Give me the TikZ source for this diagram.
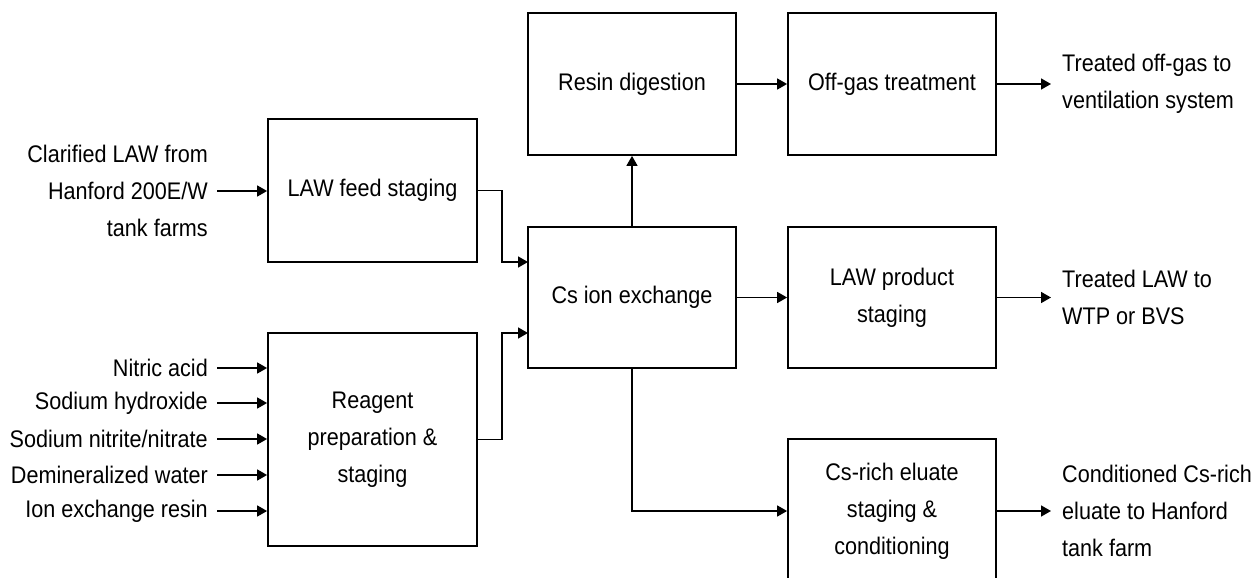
\documentclass[tikz,border=0pt]{standalone}
\usepackage{fontspec}
\setmainfont{Liberation Sans}[FakeStretch=0.9]
\usetikzlibrary{arrows.meta}
\begin{document}
\begin{tikzpicture}[x=1pt,y=-1pt,
  txt/.style={font=\fontsize{24}{37}\selectfont},
  box/.style={draw, line width=1.8pt, txt, align=center, inner sep=0pt},
  arr/.style={line width=1.6pt, -{Triangle[length=10pt,width=11pt]}},
  inlab/.style={txt, align=right, anchor=east, inner xsep=9pt, inner ysep=0pt},
  outlab/.style={txt, align=left, anchor=west, inner xsep=11pt, inner ysep=0pt}]
\useasboundingbox (0,0) rectangle (1251,578);
\clip (0,0) rectangle (1251,578);
% boxes
\node[box, minimum width=209pt, minimum height=143pt] (feed) at (372.5,190.5) {LAW feed staging};
\node[box, minimum width=209pt, minimum height=213pt] (reag) at (372.5,439.5) {Reagent\\preparation \&\\staging};
\node[box, minimum width=208pt, minimum height=141pt] (cs) at (632,297.5) {Cs ion exchange};
\node[box, minimum width=208pt, minimum height=142pt] (resin) at (632,84) {Resin digestion};
\node[box, minimum width=208pt, minimum height=142pt] (off) at (892,84) {Off-gas treatment};
\node[box, minimum width=208pt, minimum height=141pt] (prod) at (892,297.5) {LAW product\\staging};
\node[box, minimum width=208pt, minimum height=144pt] (elu) at (892,511) {Cs-rich eluate\\staging \&\\conditioning};
% input labels
\node[inlab] (law) at (217,191) {Clarified LAW from\\Hanford 200E/W\\tank farms};
\node[inlab] (i1) at (217,368) {Nitric acid};
\node[inlab] (i2) at (217,403) {Sodium hydroxide};
\node[inlab] (i3) at (217,439) {Sodium nitrite/nitrate};
\node[inlab] (i4) at (217,475) {Demineralized water};
\node[inlab] (i5) at (217,511) {Ion exchange resin};
% output labels
\node[outlab] (o1) at (1051,84) {Treated off-gas to\\ventilation system};
\node[outlab] (o2) at (1051,297.5) {Treated LAW to\\WTP or BVS};
\node[outlab] (o3) at (1051,511) {Conditioned Cs-rich\\eluate to Hanford\\tank farm};
% coordinates
\coordinate (cin1) at (528,262);
\coordinate (cin2) at (528,333);
\coordinate (bend) at (632,511);
% connectors
\draw[arr] (law.east) -- (law.east -| feed.west);
\foreach \i in {i1,i2,i3,i4,i5} \draw[arr] (\i.east) -- (\i.east -| reag.west);
\draw[arr] (feed.east) -- ++(24,0) |- (cin1);
\draw[arr] (reag.east) -- ++(24,0) |- (cin2);
\draw[arr] (cs.north) -- (resin.south);
\draw[arr] (resin.east) -- (off.west);
\draw[arr] (cs.east) -- (prod.west);
\draw[arr] (cs.south) -- (bend) -- (elu.west);
\draw[arr] (off.east) -- (o1.west);
\draw[arr] (prod.east) -- (o2.west);
\draw[arr] (elu.east) -- (o3.west);
\end{tikzpicture}
\end{document}
